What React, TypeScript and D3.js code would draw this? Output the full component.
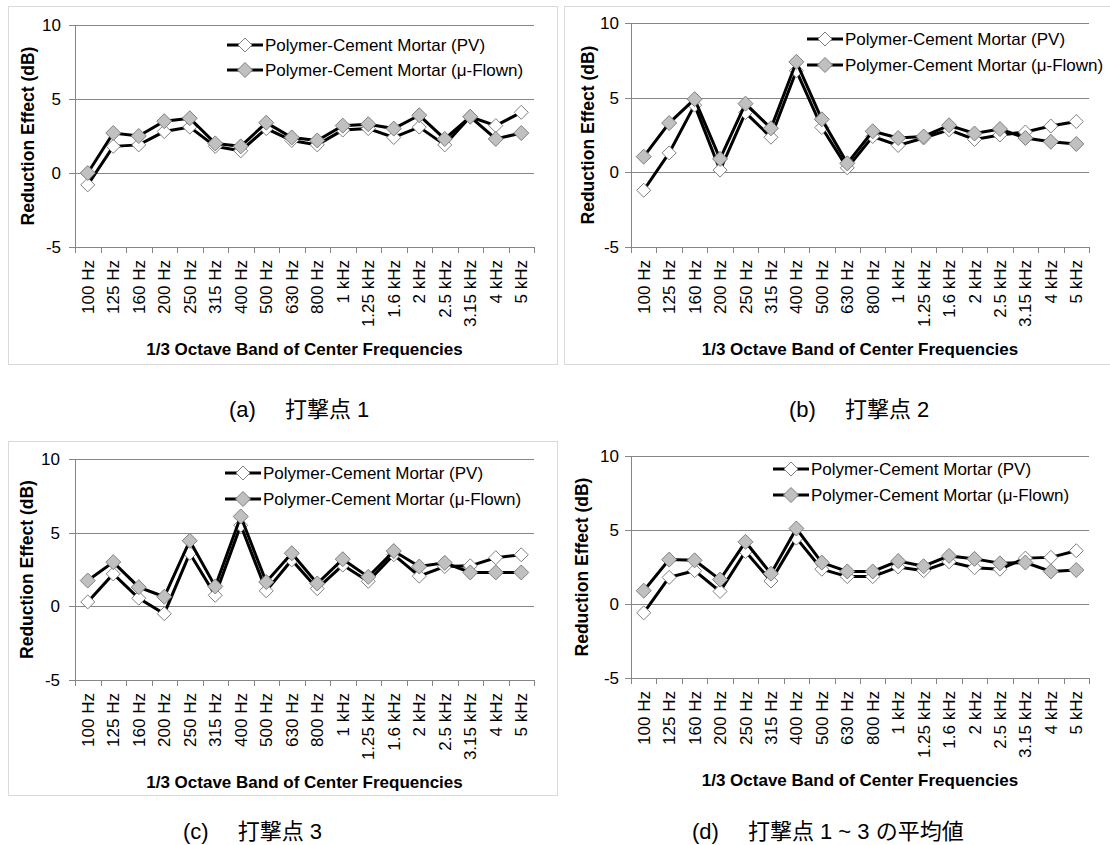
import React from 'react';
import * as d3 from 'd3';

const categories = ['100 Hz','125 Hz','160 Hz','200 Hz','250 Hz','315 Hz','400 Hz','500 Hz','630 Hz','800 Hz','1 kHz','1.25 kHz','1.6 kHz','2 kHz','2.5 kHz','3.15 kHz','4 kHz','5 kHz'];
const yTicks = [-5, 0, 5, 10];
const seriesNames = ['Polymer-Cement Mortar (PV)', 'Polymer-Cement Mortar (\u03bc-Flown)'];
const yTitle = 'Reduction Effect (dB)';
const xTitle = '1/3 Octave Band of Center Frequencies';

const pvA = [-0.8, 1.8, 1.9, 2.8, 3.1, 1.8, 1.5, 3.0, 2.2, 1.9, 2.9, 3.0, 2.4, 3.1, 1.9, 3.8, 3.2, 4.1];
const flA = [0.0, 2.7, 2.5, 3.5, 3.7, 2.0, 1.8, 3.4, 2.4, 2.2, 3.2, 3.3, 3.0, 3.9, 2.3, 3.8, 2.3, 2.7];
const pvB = [-1.2, 1.3, 4.5, 0.15, 4.0, 2.35, 6.8, 3.0, 0.3, 2.4, 1.8, 2.3, 2.85, 2.2, 2.5, 2.7, 3.1, 3.4];
const flB = [1.05, 3.3, 4.9, 0.9, 4.6, 2.95, 7.4, 3.55, 0.6, 2.75, 2.3, 2.4, 3.15, 2.6, 2.9, 2.3, 2.05, 1.9];
const pvC = [0.3, 2.2, 0.55, -0.5, 3.6, 0.75, 5.5, 1.05, 3.15, 1.2, 2.8, 1.7, 3.5, 2.05, 2.7, 2.75, 3.3, 3.5];
const flC = [1.75, 3.0, 1.3, 0.65, 4.45, 1.35, 6.1, 1.65, 3.6, 1.55, 3.2, 2.0, 3.75, 2.7, 2.95, 2.3, 2.3, 2.3];
const pvD = [-0.6, 1.8, 2.25, 0.85, 3.55, 1.55, 4.45, 2.35, 1.85, 1.85, 2.5, 2.25, 2.85, 2.45, 2.35, 3.1, 3.15, 3.6];
const flD = [0.9, 3.0, 2.95, 1.65, 4.2, 2.05, 5.1, 2.8, 2.2, 2.2, 2.9, 2.55, 3.25, 3.05, 2.75, 2.8, 2.2, 2.3];

const captionTags = ['(a)', '(b)', '(c)', '(d)'];
const captionTexts = ['打撃点 1', '打撃点 2', '打撃点 3', '打撃点 1 ~ 3 の平均値'];

const layouts = [
  { pv: pvA, fl: flA, axisX: 75, right: 534, top: 25, bottom: 247, labelRight: 61, yTitleX: 28, legX: 227, legY: [45, 70], capX: 229, capY: 417, frame: [8, 6, 557, 364] },
  { pv: pvB, fl: flB, axisX: 631, right: 1089, top: 23, bottom: 247, labelRight: 619, yTitleX: 588, legX: 807, legY: [39, 65], capX: 789, capY: 417, frame: [564, 6, 1120, 364] },
  { pv: pvC, fl: flC, axisX: 75, right: 534, top: 459, bottom: 680, labelRight: 60, yTitleX: 27, legX: 225, legY: [473, 499], capX: 183, capY: 839, frame: [8, 441, 557, 795] },
  { pv: pvD, fl: flD, axisX: 631, right: 1089, top: 456, bottom: 678, labelRight: 619, yTitleX: 582, legX: 773, legY: [469, 495], capX: 692, capY: 839, frame: null },
];

const FONT = '"Liberation Sans", Arial, sans-serif';
const CJK = '"Liberation Sans", "Noto Sans CJK JP", sans-serif';
const GRID = '#868686';

function diamond(cx: number, cy: number, r: number) {
  return `M${cx},${cy - r}L${cx + r},${cy}L${cx},${cy + r}L${cx - r},${cy}Z`;
}

function Panel({ cfg, idx }: { cfg: any; idx: number }) {
  const x = d3.scaleBand<string>().domain(categories).range([cfg.axisX, cfg.right]).paddingInner(0).paddingOuter(0);
  const y = d3.scaleLinear().domain([-5, 10]).range([cfg.bottom, cfg.top]);
  const cx = (c: string) => (x(c) as number) + x.bandwidth() / 2;
  const line = d3.line<number>().x((_, i) => cx(categories[i])).y((v) => y(v));
  const boundaries = categories.map((c) => x(c) as number).concat([cfg.right]);
  const series = [
    { vals: cfg.pv, fill: '#ffffff', r: 7 },
    { vals: cfg.fl, fill: '#c0c0c0', r: 7.5 },
  ];
  const plotMid = (cfg.axisX + cfg.right) / 2;
  return (
    <g>
      {cfg.frame && (
        <rect x={cfg.frame[0] + 0.5} y={cfg.frame[1] + 0.5} width={cfg.frame[2] - cfg.frame[0]} height={cfg.frame[3] - cfg.frame[1]} fill="none" stroke="#d9d9d9" strokeWidth={1} />
      )}
      {yTicks.map((t) => (
        <g key={t}>
          <line x1={cfg.axisX - 6} x2={t === -5 ? cfg.axisX : cfg.right} y1={Math.round(y(t)) + 0.5} y2={Math.round(y(t)) + 0.5} stroke={GRID} strokeWidth={1} />
          <text x={cfg.labelRight} y={y(t) + 6} textAnchor="end" fontFamily={FONT} fontSize={17} fill="#000">{t}</text>
        </g>
      ))}
      <line x1={cfg.axisX + 0.5} x2={cfg.axisX + 0.5} y1={cfg.top} y2={cfg.bottom} stroke={GRID} strokeWidth={1} />
      <line x1={cfg.axisX} x2={cfg.right} y1={Math.round(cfg.bottom) + 0.5} y2={Math.round(cfg.bottom) + 0.5} stroke={GRID} strokeWidth={1} />
      {boundaries.map((b, i) => (
        <line key={i} x1={Math.round(b) + 0.5} x2={Math.round(b) + 0.5} y1={cfg.bottom} y2={cfg.bottom + 6} stroke={GRID} strokeWidth={1} />
      ))}
      {categories.map((c) => (
        <text key={c} transform={`translate(${cx(c) + 6},${cfg.bottom + 13}) rotate(-90)`} textAnchor="end" fontFamily={FONT} fontSize={17} fill="#000">{c}</text>
      ))}
      <text transform={`translate(${cfg.yTitleX + 6},${(cfg.top + cfg.bottom) / 2}) rotate(-90)`} textAnchor="middle" fontFamily={FONT} fontSize={17.5} fontWeight="bold" fill="#000">{yTitle}</text>
      <text x={plotMid} y={cfg.bottom + 108} textAnchor="middle" fontFamily={FONT} fontSize={17} fontWeight="bold" fill="#000">{xTitle}</text>
      {series.map((s, si) => (
        <g key={si}>
          <path d={line(s.vals) as string} fill="none" stroke="#000" strokeWidth={3} strokeLinejoin="miter" />
          {s.vals.map((v: number, i: number) => (
            <path key={i} d={diamond(cx(categories[i]), y(v), s.r)} fill={s.fill} stroke="#7f7f7f" strokeWidth={1} />
          ))}
        </g>
      ))}
      {series.map((s, si) => (
        <g key={'l' + si}>
          <line x1={cfg.legX} x2={cfg.legX + 36} y1={cfg.legY[si]} y2={cfg.legY[si]} stroke="#000" strokeWidth={3} />
          <path d={diamond(cfg.legX + 18, cfg.legY[si], s.r)} fill={s.fill} stroke="#7f7f7f" strokeWidth={1} />
          <text x={cfg.legX + 38} y={cfg.legY[si] + 6} fontFamily={FONT} fontSize={17} fill="#000">{seriesNames[si]}</text>
        </g>
      ))}
      <text x={cfg.capX} y={cfg.capY} fontFamily={CJK} fontSize={22} fill="#000" style={{ whiteSpace: 'pre' }}>
        <tspan>{captionTags[idx]}</tspan>
        <tspan dx={29}>{captionTexts[idx]}</tspan>
      </text>
    </g>
  );
}

export default function App() {
  return (
    <svg width={1110} height={845} style={{ position: 'absolute', left: 0, top: 0, background: '#fff' }}>
      <rect x={0} y={0} width={1110} height={845} fill="#fff" />
      {layouts.map((cfg, i) => (
        <Panel key={i} cfg={cfg} idx={i} />
      ))}
    </svg>
  );
}
